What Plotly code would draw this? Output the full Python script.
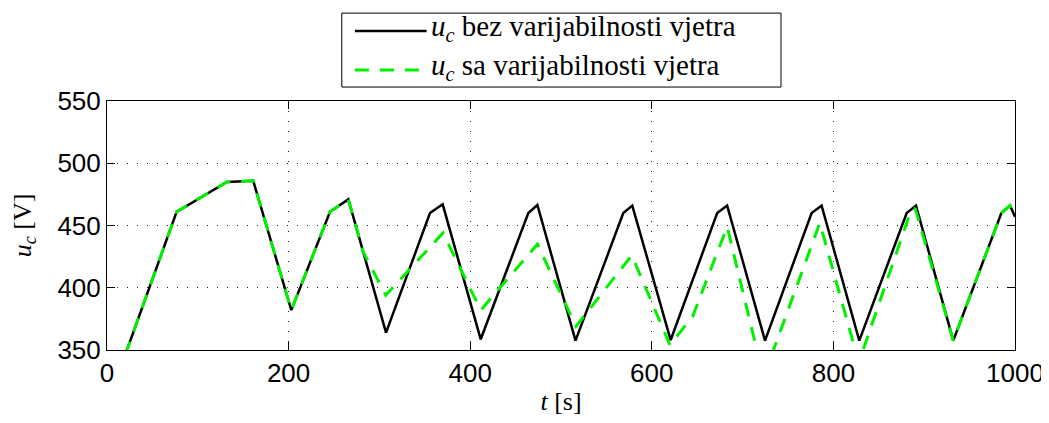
import plotly.graph_objects as go

# time [s] and capacitor voltage [V]
t_bez = [20, 76.7, 132, 161, 203, 245.6, 265.8, 307.3, 355.7, 369.7, 411.6,
         464, 474, 516, 568.6, 578.5, 620.8, 672, 683, 724.7, 776, 787,
         828.5, 880.7, 891, 932, 985, 994.5, 1000]
u_bez = [346, 461, 485, 486, 382, 461, 471, 364, 460, 467, 358.6,
         460, 466.5, 357.5, 460, 466, 358, 460, 466, 357.5, 460, 466,
         357.5, 460, 466, 357.5, 460, 466, 457]

t_sa = [20, 76.7, 132, 161, 203, 245.6, 265.8, 282, 307, 370, 411.6,
        474, 516.5, 578, 620, 645, 683, 723, 785, 828, 884, 890,
        932, 985, 994.5, 1000]
u_sa = [346, 461, 485, 486, 382, 461, 471, 429, 394, 444, 382,
        435, 369, 426, 354, 377, 449, 328, 452, 340, 459, 464,
        357.5, 460, 466, 457]

x_ticks = [0, 200, 400, 600, 800, 1000]
y_ticks = [350, 400, 450, 500, 550]

names = ["<i>u</i><sub><i>c</i></sub> bez varijabilnosti vjetra",
         "<i>u</i><sub><i>c</i></sub> sa varijabilnosti vjetra"]

serif = "Liberation Serif"
sans = "Liberation Sans"
green = "#00f000"
dashes = "14px,11px"

fig = go.Figure()
fig.add_trace(go.Scatter(x=t_bez, y=u_bez, mode="lines", name=names[0],
                         line=dict(color="black", width=2.5)))
fig.add_trace(go.Scatter(x=t_sa, y=u_sa, mode="lines", name=names[1],
                         line=dict(color=green, width=3, dash=dashes)))

axis_common = dict(
    showline=True, linecolor="black", linewidth=1, mirror="ticks",
    ticks="inside", ticklen=8, tickcolor="black", automargin=False,
    showgrid=True, gridcolor="#222222", griddash="1px,9px", gridwidth=1,
    zeroline=False, tickfont=dict(family=sans, size=26, color="black"),
)

fig.update_xaxes(range=[0, 1000], tickvals=x_ticks,
                 title=dict(text="<i>t</i> [s]", font=dict(family=serif, size=26, color="black"),
                            standoff=4),
                 **axis_common)
fig.update_yaxes(range=[350, 550], tickvals=y_ticks,
                 title=dict(text="<i>u</i><sub><i>c</i></sub> [V]", font=dict(family=serif, size=26, color="black"),
                            standoff=18),
                 **axis_common)

# legend drawn by hand (MATLAB style box above the axes)
fig.add_shape(type="rect", xref="paper", yref="paper",
              x0=0.2586, x1=0.7423, y0=1.056, y1=1.353,
              line=dict(color="black", width=1), fillcolor="white")
for row_y, color, dash, width, label in [(1.281, "black", "solid", 2.5, names[0]),
                                         (1.124, green, dashes, 3, names[1])]:
    fig.add_shape(type="line", xref="paper", yref="paper",
                  x0=0.273, x1=0.352, y0=row_y, y1=row_y,
                  line=dict(color=color, width=width, dash=dash))
    fig.add_annotation(xref="paper", yref="paper", x=0.355, y=row_y + 0.012,
                       xanchor="left", yanchor="middle", showarrow=False,
                       text=label, font=dict(family=serif, size=29, color="black"))

# page body keeps an 8px margin, so the figure is made 8px smaller
fig.update_layout(
    width=1041, height=415,
    margin=dict(l=99, r=34, t=93, b=73),
    plot_bgcolor="white", paper_bgcolor="white",
    showlegend=False,
)

fig.write_html("out.html")
